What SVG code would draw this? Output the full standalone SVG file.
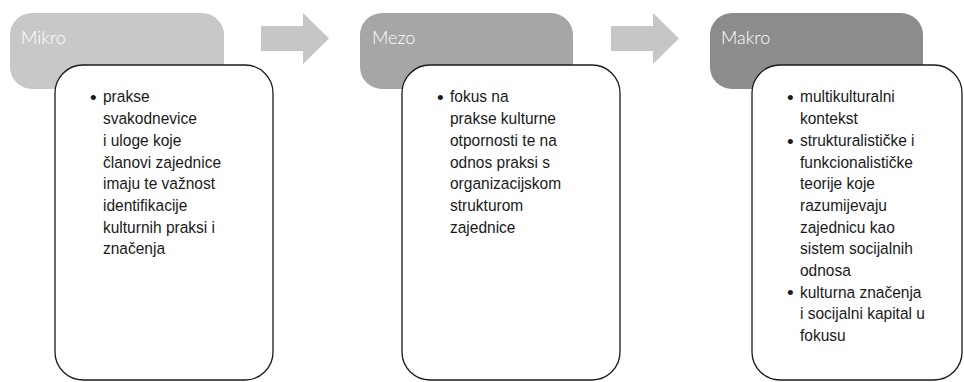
<svg xmlns="http://www.w3.org/2000/svg" width="964" height="382" viewBox="0 0 964 382">
<style>
.hdr{stroke:none}
.box{fill:#ffffff;stroke:#1a1a1a;stroke-width:1.3}
.arrow{fill:#c6c6c6;stroke:none}
.title{font-family:Lato,"Open Sans","DejaVu Sans",sans-serif;font-weight:300;font-size:18px;fill:#ffffff}
.body{font-family:"Liberation Sans",Arial,sans-serif;font-size:16.5px;fill:#1a1a1a}
.bul{font-family:"Liberation Sans",Arial,sans-serif;font-size:19px;fill:#1a1a1a}
</style>
<rect width="964" height="382" fill="#ffffff"/>
<g id="connectors">
<path class="arrow" d="M261,26 H303 V13 L329,38.5 L303,64 V51 H261 Z"/>
<path class="arrow" d="M611,26 H653 V13 L679,38.5 L653,64 V51 H611 Z"/>
</g>
<g id="mikro">
<rect class="hdr" x="10" y="13" width="214" height="76" rx="22" fill="#c8c8c8"/>
<text class="title" x="21" y="43.5">Mikro</text>
<rect class="box" x="55" y="65" width="218" height="315" rx="28"/>
<text class="bul" x="90" y="103.5">•</text>
<g transform="translate(103,0) scale(0.94,1)">
<text class="body"><tspan x="0" y="102.5">prakse</tspan><tspan x="0" y="124.2">svakodnevice</tspan><tspan x="0" y="145.9">i uloge koje</tspan><tspan x="0" y="167.6">članovi zajednice</tspan><tspan x="0" y="189.3">imaju te važnost</tspan><tspan x="0" y="211">identifikacije</tspan><tspan x="0" y="232.7">kulturnih praksi i</tspan><tspan x="0" y="254.4">značenja</tspan></text>
</g>
</g>
<g id="mezo">
<rect class="hdr" x="360" y="13" width="213" height="76" rx="22" fill="#a6a6a6"/>
<text class="title" x="372" y="43.5">Mezo</text>
<rect class="box" x="402" y="65" width="218" height="315" rx="28"/>
<text class="bul" x="437" y="103.5">•</text>
<g transform="translate(450,0) scale(0.94,1)">
<text class="body"><tspan x="0" y="102.5">fokus na</tspan><tspan x="0" y="124.2">prakse kulturne</tspan><tspan x="0" y="145.9">otpornosti te na</tspan><tspan x="0" y="167.6">odnos praksi s</tspan><tspan x="0" y="189.3">organizacijskom</tspan><tspan x="0" y="211">strukturom</tspan><tspan x="0" y="232.7">zajednice</tspan></text>
</g>
</g>
<g id="makro">
<rect class="hdr" x="710" y="13" width="213" height="76" rx="22" fill="#8c8c8c"/>
<text class="title" x="721" y="43.5">Makro</text>
<rect class="box" x="752" y="65" width="210" height="315" rx="28"/>
<text class="bul" x="787" y="103.5">•</text>
<text class="bul" x="787" y="147.5">•</text>
<text class="bul" x="787" y="298.5">•</text>
<g transform="translate(800,0) scale(0.94,1)">
<text class="body"><tspan x="0" y="102.5">multikulturalni</tspan><tspan x="0" y="124.2">kontekst</tspan><tspan x="0" y="145.9">strukturalističke i</tspan><tspan x="0" y="167.6">funkcionalističke</tspan><tspan x="0" y="189.3">teorije koje</tspan><tspan x="0" y="211">razumijevaju</tspan><tspan x="0" y="232.7">zajednicu kao</tspan><tspan x="0" y="254.4">sistem socijalnih</tspan><tspan x="0" y="276.1">odnosa</tspan><tspan x="0" y="297.8">kulturna značenja</tspan><tspan x="0" y="319.5">i socijalni kapital u</tspan><tspan x="0" y="341.2">fokusu</tspan></text>
</g>
</g>
</svg>
